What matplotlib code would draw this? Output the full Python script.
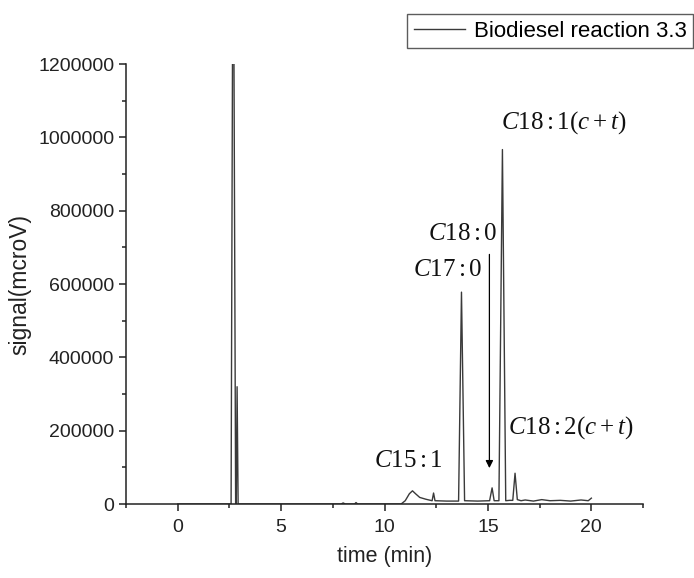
import numpy as np
import matplotlib
matplotlib.use('Agg')
import matplotlib.pyplot as plt
from matplotlib.ticker import MultipleLocator, FuncFormatter

# chromatogram trace (time in min, signal in mcroV)
time_min = [0.0, 2.50, 2.58, 2.68, 2.80, 2.83, 2.87, 2.92, 3.00, 5.00, 7.90, 8.00,
            8.10, 8.55, 8.62, 8.70, 10.80, 11.00, 11.20, 11.35, 11.50, 11.70, 12.00,
            12.30, 12.37, 12.44, 13.00, 13.58, 13.72, 13.87, 14.50, 15.08, 15.20,
            15.30, 15.53, 15.70, 15.86, 16.05, 16.20, 16.31, 16.42, 16.60, 16.80,
            17.20, 17.60, 18.00, 18.50, 19.00, 19.50, 19.85, 20.00]
signal = [0, 0, 0, 1800000, 0, 0, 320000, 0, 0, 0, 0, 3000,
          0, 0, 4000, 0, 0, 9000, 28000, 36000, 28000, 18000, 13000,
          9000, 30000, 9000, 8000, 8000, 578000, 9000, 8000, 9000, 44000,
          9000, 9000, 967000, 9000, 10000, 10000, 84000, 12000, 9000, 11000,
          8000, 12000, 9000, 10000, 8000, 11000, 9000, 16000]

legend_label = "Biodiesel reaction 3.3"

# peak labels: (text, x, y)
peak_labels = [
    (r"$C18:1(c+t)$", 18.65, 1040000),
    (r"$C18:0$", 13.8, 740000),
    (r"$C17:0$", 13.07, 640000),
    (r"$C18:2(c+t)$", 19.0, 208000),
    (r"$C15:1$", 11.15, 120000),
]
arrow_x = 15.07
arrow_from = 681000
arrow_to = 98000

plt.rcParams['font.family'] = ['Liberation Sans', 'DejaVu Sans']
plt.rcParams['mathtext.fontset'] = 'custom'
plt.rcParams['mathtext.rm'] = 'Liberation Serif'
plt.rcParams['mathtext.it'] = 'Liberation Serif:italic'

fig = plt.figure(figsize=(6.94, 5.78), dpi=100)
ax = fig.add_axes([0.1816, 0.128, 0.745, 0.761])

ax.plot(time_min, signal, color='#3a3a3a', lw=1.0, label=legend_label)

ax.set_xlim(-2.5, 22.5)
ax.set_ylim(0, 1200000)
ax.xaxis.set_major_locator(MultipleLocator(5))
ax.xaxis.set_minor_locator(MultipleLocator(2.5))
ax.yaxis.set_major_locator(MultipleLocator(200000))
ax.yaxis.set_minor_locator(MultipleLocator(100000))
ax.yaxis.set_major_formatter(FuncFormatter(lambda v, p: "%d" % v))

for side in ['top', 'right']:
    ax.spines[side].set_visible(False)
for side in ['left', 'bottom']:
    ax.spines[side].set_linewidth(1.1)
    ax.spines[side].set_color('#222222')
ax.tick_params(which='major', direction='out', length=5, width=1.1, labelsize=14,
               colors='#222222')
ax.tick_params(axis='x', which='major', pad=6)
ax.tick_params(which='minor', direction='out', length=3, width=1.1, colors='#222222')

ax.set_xlabel("time (min)", fontsize=15.5, color='#222222', labelpad=7)
ax.set_ylabel("signal(mcroV)", fontsize=16.5, color='#222222', labelpad=5)

for txt, x, y in peak_labels:
    ax.text(x, y, txt, fontsize=18, ha='center', va='center', color='#111111')

ax.annotate('', xy=(arrow_x, arrow_to), xytext=(arrow_x, arrow_from),
            arrowprops=dict(arrowstyle='-|>', color='black', lw=0.9,
                            mutation_scale=11, shrinkA=0, shrinkB=0))

leg = fig.legend(loc='upper left', bbox_to_anchor=(407 / 694, 1 - 14 / 578),
                 fontsize=16, frameon=True, fancybox=False, borderpad=0.3,
                 handlelength=2.3, handletextpad=0.4, borderaxespad=0)
leg.get_frame().set_edgecolor('#333333')
leg.get_frame().set_linewidth(1.0)

fig.savefig('out.png', dpi=100)
